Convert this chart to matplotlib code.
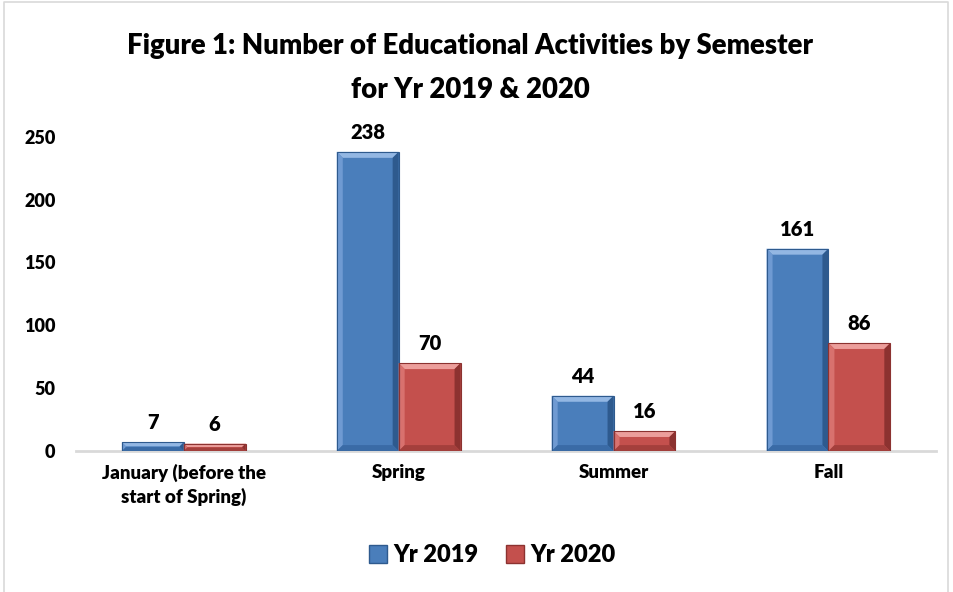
import matplotlib.pyplot as plt
from matplotlib.patches import Polygon, Rectangle
import numpy as np

# data
categories = ['January (before the\nstart of Spring)', 'Spring', 'Summer', 'Fall']
series_names = ['Yr 2019', 'Yr 2020']
yr_2019 = [7, 238, 44, 161]
yr_2020 = [6, 70, 16, 86]
y_ticks = [0, 50, 100, 150, 200, 250]

plt.rcParams['font.family'] = ['Lato', 'DejaVu Sans']
plt.rcParams['font.weight'] = 'heavy'
W = 'heavy'

fig = plt.figure(figsize=(9.54, 5.92), dpi=100)
ax = fig.add_axes([0.080, 0.238, 0.901, 0.531])
ax.set_xlim(-0.5, len(categories) - 0.5)
ax.set_ylim(0, 250)

# colours: face, top, left, right, bottom
palette = {
    'Yr 2019': ['#4A7EBB', '#93B7E3', '#6F9AD2', '#2E5A8E', '#3A6BA6'],
    'Yr 2020': ['#C4504D', '#EC9E9B', '#D8716E', '#8C3230', '#A43F3C'],
}

bar_w = 0.288
x = np.arange(len(categories))


def bevel_bar(ax, xc, h, cols, bev_px=6):
    pts = ax.transData.transform([(0, 0), (1, 1)])
    ux = pts[1, 0] - pts[0, 0]
    uy = pts[1, 1] - pts[0, 1]
    x0, x1 = xc - bar_w / 2, xc + bar_w / 2
    y0, y1 = 0, h
    bp = min(bev_px, h * uy / 2.2)
    dx, dy = bp / ux, bp / uy
    face, top, left, right, bottom = cols
    ax.add_patch(Rectangle((x0, y0), bar_w, h, facecolor=face, edgecolor='none', zorder=3))
    ax.add_patch(Polygon([(x0, y1), (x1, y1), (x1 - dx, y1 - dy), (x0 + dx, y1 - dy)],
                         facecolor=top, edgecolor='none', zorder=4))
    ax.add_patch(Polygon([(x0, y0), (x0, y1), (x0 + dx, y1 - dy), (x0 + dx, y0 + dy)],
                         facecolor=left, edgecolor='none', zorder=4))
    ax.add_patch(Polygon([(x1, y0), (x1, y1), (x1 - dx, y1 - dy), (x1 - dx, y0 + dy)],
                         facecolor=right, edgecolor='none', zorder=4))
    ax.add_patch(Polygon([(x0, y0), (x1, y0), (x1 - dx, y0 + dy), (x0 + dx, y0 + dy)],
                         facecolor=bottom, edgecolor='none', zorder=4))
    ax.add_patch(Rectangle((x0, y0), bar_w, h, facecolor='none', edgecolor=right,
                           linewidth=0.8, zorder=5))
    ax.text(xc, h + 8, str(h), ha='center', va='bottom', fontsize=14.5,
            fontweight=W, color='black', zorder=6)


for i, xc in enumerate(x):
    bevel_bar(ax, xc - bar_w / 2, yr_2019[i], palette['Yr 2019'])
    bevel_bar(ax, xc + bar_w / 2, yr_2020[i], palette['Yr 2020'])

ax.set_xticks(x)
ax.set_xticklabels(categories, fontsize=13.5, fontweight=W, linespacing=1.4)
ax.set_yticks(y_ticks)
ax.set_yticklabels([str(t) for t in y_ticks], fontsize=13, fontweight=W)
ax.tick_params(axis='both', length=0)
ax.tick_params(axis='x', pad=9)
ax.tick_params(axis='y', pad=15)
for s in ['top', 'right', 'left']:
    ax.spines[s].set_visible(False)
ax.spines['bottom'].set_color('#D9D9D9')
ax.spines['bottom'].set_linewidth(2)

fig.text(0.493, 0.885, 'Figure 1: Number of Educational Activities by Semester\nfor Yr 2019 & 2020',
         ha='center', va='center', fontsize=19.8, fontweight=W, linespacing=1.85)

handles = [Rectangle((0, 0), 1, 1, facecolor=palette[n][0], edgecolor=palette[n][3]) for n in series_names]
fig.legend(handles, series_names, loc='center', bbox_to_anchor=(0.516, 0.062), ncol=2,
           frameon=False, handlelength=0.75, handleheight=0.75,
           handletextpad=0.25, columnspacing=1.2, prop={'weight': W, 'size': 17})

# chart border
fig.add_artist(plt.Line2D([0.004, 0.004, 0.994, 0.994], [0.0, 0.996, 0.996, 0.0],
                          transform=fig.transFigure, color='#D9D9D9', linewidth=1.2))

fig.savefig('out.png', dpi=100)
